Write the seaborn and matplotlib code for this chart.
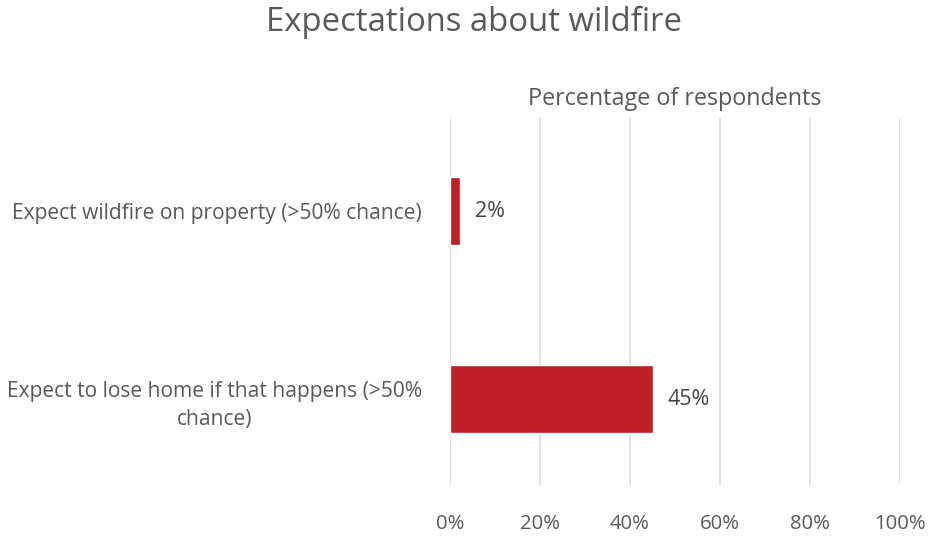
import matplotlib
matplotlib.use("Agg")
import matplotlib.pyplot as plt
import seaborn as sns
import pandas as pd
from matplotlib.ticker import PercentFormatter

# Datos del gráfico
categorias = [
    "Expect wildfire on property (>50% chance)",
    "Expect to lose home if that happens (>50%\nchance)",
]
porcentajes = [2.2, 45]
etiquetas = ["2%", "45%"]
ticks_x = [0, 20, 40, 60, 80, 100]

df = pd.DataFrame({"categoria": categorias, "pct": porcentajes})

sns.set_theme(style="white")
plt.rcParams["font.family"] = ["Open Sans", "DejaVu Sans"]

gris = "#595959"
rojo = "#BE1E24"

fig = plt.figure(figsize=(9.29, 5.36), dpi=100)
ax = fig.add_axes([0.4844, 0.0951, 0.4844, 0.6848])

sns.barplot(data=df, x="pct", y="categoria", color=rojo, width=0.36,
            saturation=1, ax=ax, orient="h")

ax.set_xlim(0, 100)
ax.set_ylim(1.457, -0.495)
ax.set_xticks(ticks_x)
ax.xaxis.set_major_formatter(PercentFormatter(decimals=0))
ax.grid(axis="x", color="#DDDDDD", linewidth=1.2)
ax.set_axisbelow(True)
for s in ax.spines.values():
    s.set_visible(False)

ax.tick_params(axis="x", length=0, pad=21, labelsize=14.6, labelcolor=gris)
ax.tick_params(axis="y", length=0, pad=20, labelsize=15.1, labelcolor=gris)
for t in ax.get_yticklabels():
    t.set_multialignment("center")
    t.set_linespacing(1.45)

ax.set_xlabel("")
ax.set_ylabel("")

# Etiquetas de datos
for i, (v, lab) in enumerate(zip(porcentajes, etiquetas)):
    ax.text(v + 3.3, i, lab, va="center", ha="left", fontsize=15.5,
            color="#454545")

fig.text(0.4844 + 0.4844 / 2, 1 - 99 / 536, "Percentage of respondents",
         ha="center", va="center", fontsize=16.8, color=gris)
fig.text(0.51, 1 - 22 / 536, "Expectations about wildfire",
         ha="center", va="center", fontsize=23.7, color=gris)

fig.savefig("out.png", dpi=100)
